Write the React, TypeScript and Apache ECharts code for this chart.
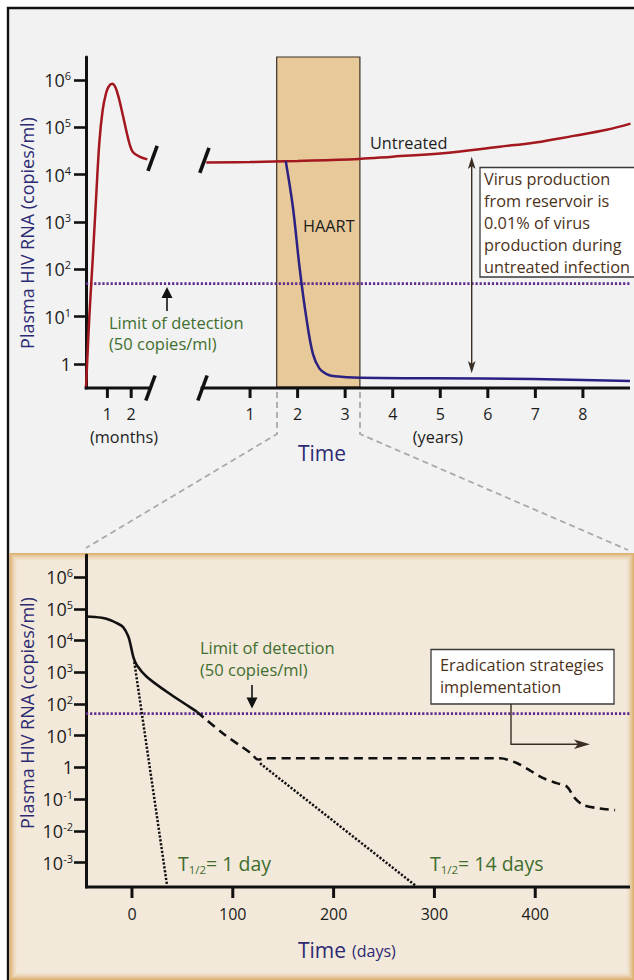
import { useEffect, useRef } from 'react';
import * as echarts from 'echarts';

const FONT = '"Open Sans", "Noto Sans", sans-serif';

// ---------------- Top panel: course of infection ----------------
// early (primary) infection, time in months
const earlyMonths = [0.1, 0.24, 0.38, 0.52, 0.66, 0.8, 0.94, 1.05, 1.2, 1.35, 1.5, 1.65, 1.79, 1.93, 2.07, 2.35, 2.68];
const earlyCopies = [0.32, 10, 155, 2900, 4.7e4, 2.3e5, 5.2e5, 7.2e5, 8.3e5, 6.8e5, 3.8e5, 1.8e5, 8.7e4, 4.5e4, 3.0e4, 2.4e4, 2.1e4];
// untreated chronic infection, time in years
const untreatedYears = [0.08, 1, 2, 3.3, 4, 5, 6.25, 7, 7.8, 8.5, 9.0];
const untreatedCopies = [1.8e4, 1.85e4, 1.95e4, 2.15e4, 2.4e4, 2.8e4, 3.9e4, 4.8e4, 6.6e4, 8.9e4, 1.2e5];
// on HAART, time in years
const haartYears = [1.75, 1.9, 2.04, 2.18, 2.32, 2.46, 2.6, 2.74, 3.31, 4.84, 6.95, 8.99];
const haartCopies = [1.95e4, 2100, 112, 10, 1.66, 0.8, 0.62, 0.56, 0.51, 0.5, 0.48, 0.44];
const haartWindow = [1.56, 3.31]; // years
const monthTicks = [1, 2];
const yearTicks = [1, 2, 3, 4, 5, 6, 7, 8];
const topDecades = [0, 1, 2, 3, 4, 5, 6];
const detectionLimit = 50; // copies/ml

// ---------------- Bottom panel: decay on therapy (days) ----------------
const solidDays = [-45.6, -30, -21.8, -15, -8.6, -3.6, -1, 1.3, 4.7, 14.6, 34.5, 54.3, 64.3];
const solidCopies = [5.75e4, 5.25e4, 4.47e4, 3.55e4, 2.63e4, 1.35e4, 6460, 3090, 1700, 724, 245, 93, 57.5];
const dashedDays = [64.3, 90, 118, 125, 133, 160, 200, 300, 365, 381.6, 395, 408, 421.4, 431.3, 439.5, 447.8, 464.3, 479.2];
const dashedCopies = [57.5, 12, 2.8, 1.78, 1.95, 1.95, 1.95, 1.95, 1.95, 1.38, 0.8, 0.46, 0.32, 0.25, 0.105, 0.065, 0.051, 0.045];
const fastDecayDays = [2.3, 34.8];
const fastDecayCopies = [2150, 1.9e-4];
const slowDecayDays = [127, 282];
const slowDecayCopies = [1.35, 1.8e-4];
const dayTicks = [0, 100, 200, 300, 400];
const bottomDecades = [-3, -2, -1, 0, 1, 2, 3, 4, 5, 6];

// ---------------- helpers ----------------
const lg = (v: number) => Math.log10(v);
const monthToAxis = (m: number) => -2.5 + 0.5 * m;
const TOP = { xMin: -2.45, xMax: 8.99, yMin: -0.507, yMax: 6.486, breakL: -1.07, breakR: 0.02 };
const BOT = { xMin: -45.6, xMax: 494, yMin: -3.77, yMax: 6.7 };

const RED = '#a3171f';
const BLUE = '#2b2183';
const PURPLE = '#5e2b8f';
const GREEN = '#3f6e2f';
const TITLE = '#2c2a72';
const INK = '#1c1c1c';
const BROWN = '#4b3219';
const ARROW = '#3a2e24';

const pairs = (xs: number[], ys: number[], fx: (v: number) => number = (v) => v) =>
  xs.map((x, i) => [fx(x), lg(ys[i])]);

const yRich = {
  b: { fontFamily: FONT, fontSize: 18, color: INK, lineHeight: 20 },
  s: { fontFamily: FONT, fontSize: 11, color: INK, lineHeight: 11, verticalAlign: 'top' },
};
const decadeLabel = (v: number) => {
  const n = Math.round(v);
  return n === 0 ? '{b|1}' : `{b|10}{s|${n}}`;
};

function mix(a: string, b: string, t: number) {
  const pa = [1, 3, 5].map((i) => parseInt(a.slice(i, i + 2), 16));
  const pb = [1, 3, 5].map((i) => parseInt(b.slice(i, i + 2), 16));
  const c = pa.map((v, i) => Math.round(v + (pb[i] - v) * t));
  return `rgb(${c[0]},${c[1]},${c[2]})`;
}

const txt = (x: number, y: number, text: string, size: number, color: string, align = 'left', extra: any = {}) => ({
  type: 'text',
  z: 50,
  x,
  y,
  ...extra,
  style: {
    text,
    fontFamily: FONT,
    fontSize: size,
    fill: color,
    align,
    textAlign: align,
    verticalAlign: 'middle',
    textVerticalAlign: 'middle',
    ...(extra.style || {}),
  },
});

const tickSeries = (xIdx: number, yIdx: number, values: number[], yAt: number, len: number) => ({
  type: 'custom',
  name: 'ticks',
  xAxisIndex: xIdx,
  yAxisIndex: yIdx,
  z: 6,
  silent: true,
  clip: false,
  data: values.map((v) => [v, yAt]),
  renderItem: (_p: any, api: any) => {
    const p = api.coord([api.value(0), api.value(1)]);
    return {
      type: 'line',
      shape: { x1: p[0], y1: p[1], x2: p[0], y2: p[1] + len },
      style: { stroke: '#111', lineWidth: 3 },
    };
  },
});

function buildOption(): any {
  // panel backgrounds
  const graphics: any[] = [
    { type: 'rect', z: -30, shape: { x: 8, y: 8, width: 700, height: 1100 }, style: { fill: '#f2f2f2', stroke: '#111', lineWidth: 2.4 } },
  ];
  const steps = 9;
  for (let i = 0; i < steps; i++) {
    const t = 1 - Math.pow(1 - i / (steps - 1), 1.6);
    graphics.push({
      type: 'rect',
      z: -29,
      shape: { x: 9.4 + i, y: 553 + i, width: 634 - 9.4 - 2 * i, height: 427 - 2 * i },
      style: { fill: mix('#dcb070', '#f3e9da', t) },
    });
  }
  // zoom connectors
  graphics.push(
    { type: 'polyline', z: -5, shape: { points: [[277, 392], [277, 434], [86, 548]] }, style: { stroke: '#a9a9a9', lineWidth: 1.8, lineDash: [6, 4], fill: null } },
    { type: 'polyline', z: -5, shape: { points: [[360, 392], [360, 434], [628, 550]] }, style: { stroke: '#a9a9a9', lineWidth: 1.8, lineDash: [6, 4], fill: null } }
  );
  // y axis titles
  graphics.push(
    txt(27, 233, 'Plasma HIV RNA (copies/ml)', 18, TITLE, 'center', { rotation: Math.PI / 2 }),
    txt(27, 713, 'Plasma HIV RNA (copies/ml)', 18, TITLE, 'center', { rotation: Math.PI / 2 })
  );
  // top annotations
  graphics.push(
    txt(370, 143, 'Untreated', 16.3, INK),
    txt(303, 226, 'HAART', 16.3, INK),
    txt(109, 322, 'Limit of detection', 16.5, GREEN, 'left', { style: { lineHeight: 18 } }),
    txt(109, 343, '(50 copies/ml)', 16.5, GREEN, 'left', { style: { lineHeight: 18 } }),
    { type: 'line', z: 50, shape: { x1: 167, y1: 311, x2: 167, y2: 294 }, style: { stroke: '#111', lineWidth: 1.6 } },
    { type: 'polygon', z: 50, shape: { points: [[167, 287], [172.5, 298], [161.5, 298]] }, style: { fill: '#111' } },
    { type: 'line', z: 50, shape: { x1: 471.7, y1: 164, x2: 471.7, y2: 366 }, style: { stroke: ARROW, lineWidth: 1.4 } },
    { type: 'polygon', z: 50, shape: { points: [[471.7, 156.7], [475.5, 169], [471.7, 166], [467.9, 169]] }, style: { fill: ARROW } },
    { type: 'polygon', z: 50, shape: { points: [[471.7, 373.3], [475.5, 361], [471.7, 364], [467.9, 361]] }, style: { fill: ARROW } },
    { type: 'rect', z: 49, shape: { x: 480, y: 167.5, width: 170, height: 109.5 }, style: { fill: '#ffffff', stroke: '#3a3a3a', lineWidth: 1.3 } }
  );
  ['Virus production', 'from reservoir is', '0.01% of virus', 'production during', 'untreated infection'].forEach((l, i) =>
    graphics.push(txt(484, 178.5 + i * 22, l, 16.3, BROWN, 'left', { style: { lineHeight: 20 } }))
  );
  graphics.push(
    txt(124, 436.5, '(months)', 16.3, INK, 'center', { style: { lineHeight: 16 } }),
    txt(438, 436.5, '(years)', 16.3, INK, 'center', { style: { lineHeight: 16 } }),
    txt(298, 453, 'Time', 21, TITLE, 'left', { style: { lineHeight: 20 } })
  );
  // bottom annotations
  const subRich = {
    t: { fontFamily: FONT, fontSize: 19.5, color: GREEN, fill: GREEN, lineHeight: 24 },
    u: { fontFamily: FONT, fontSize: 11.5, color: GREEN, fill: GREEN, lineHeight: 12, verticalAlign: 'bottom' },
  };
  graphics.push(
    txt(200, 647, 'Limit of detection', 16.5, GREEN, 'left', { style: { lineHeight: 18 } }),
    txt(200, 669, '(50 copies/ml)', 16.5, GREEN, 'left', { style: { lineHeight: 18 } }),
    { type: 'line', z: 50, shape: { x1: 252, y1: 685, x2: 252, y2: 700 }, style: { stroke: '#111', lineWidth: 1.6 } },
    { type: 'polygon', z: 50, shape: { points: [[252, 708.5], [257.5, 697.5], [246.5, 697.5]] }, style: { fill: '#111' } },
    { type: 'rect', z: 49, shape: { x: 431, y: 649.5, width: 183, height: 54.5 }, style: { fill: '#ffffff', stroke: '#3a3a3a', lineWidth: 1.3 } },
    txt(440, 665, 'Eradication strategies', 16.3, BROWN, 'left', { style: { lineHeight: 20 } }),
    txt(440, 687, 'implementation', 16.3, BROWN, 'left', { style: { lineHeight: 20 } }),
    { type: 'polyline', z: 50, shape: { points: [[511, 704], [511, 744.3], [580, 744.3]] }, style: { stroke: ARROW, lineWidth: 1.4, fill: null } },
    { type: 'polygon', z: 50, shape: { points: [[590, 744.3], [574, 739.5], [578, 744.3], [574, 749]] }, style: { fill: ARROW } },
    {
      type: 'text', z: 50, x: 178, y: 863,
      style: { text: '{t|T}{u|1/2}{t|= 1 day}', align: 'left', textAlign: 'left', verticalAlign: 'middle', textVerticalAlign: 'middle', rich: subRich },
    },
    {
      type: 'text', z: 50, x: 430, y: 863,
      style: { text: '{t|T}{u|1/2}{t|= 14 days}', align: 'left', textAlign: 'left', verticalAlign: 'middle', textVerticalAlign: 'middle', rich: subRich },
    },
    txt(298, 950, 'Time', 21, TITLE, 'left', { style: { lineHeight: 20 } }),
    txt(352, 951, '(days)', 16, TITLE, 'left', { style: { lineHeight: 18 } })
  );

  const axisLineStyle = { color: '#111', width: 3 };
  const lineBase = { type: 'line', showSymbol: false, symbol: 'none', silent: true, animation: false, clip: false };

  const breakMarks = [
    [TOP.breakL + 0.02, lg(2.2e4)],
    [TOP.breakR + 0.02, lg(2.0e4)],
    [TOP.breakL - 0.025, TOP.yMin],
    [TOP.breakR - 0.02, TOP.yMin],
  ];
  const topTickValues = [...monthTicks.map(monthToAxis), ...yearTicks];

  return {
    animation: false,
    backgroundColor: '#ffffff',
    textStyle: { fontFamily: FONT },
    graphic: { elements: graphics },
    grid: [
      { left: 86, top: 57, width: 544, height: 331, outerBoundsMode: 'none', containLabel: false },
      { left: 86, top: 555, width: 544, height: 332, outerBoundsMode: 'none', containLabel: false },
    ],
    xAxis: [
      {
        type: 'value', gridIndex: 0, min: TOP.xMin, max: TOP.xMax,
        axisLine: { show: false, onZero: false },
        splitLine: { show: false },
        axisTick: { show: false },
        axisLabel: {
          customValues: topTickValues,
          formatter: (v: number) => (v < 0 ? String(Math.round((v + 2.5) / 0.5)) : String(Math.round(v))),
          fontFamily: FONT, fontSize: 16, lineHeight: 16, color: INK, margin: 18,
        },
      },
      {
        type: 'value', gridIndex: 1, min: BOT.xMin, max: BOT.xMax,
        axisLine: { show: false, onZero: false },
        splitLine: { show: false },
        axisTick: { show: false },
        axisLabel: { customValues: dayTicks, fontFamily: FONT, fontSize: 16, lineHeight: 16, color: INK, margin: 19 },
      },
    ],
    yAxis: [
      {
        type: 'value', gridIndex: 0, min: TOP.yMin, max: TOP.yMax,
        axisLine: { show: true, onZero: false, lineStyle: axisLineStyle },
        splitLine: { show: false },
        axisTick: { show: true, customValues: topDecades, length: 12, lineStyle: { color: '#111', width: 2.6 } },
        axisLabel: { customValues: topDecades, formatter: decadeLabel, rich: yRich, margin: 15, fontFamily: FONT },
      },
      {
        type: 'value', gridIndex: 1, min: BOT.yMin, max: BOT.yMax,
        axisLine: { show: true, onZero: false, lineStyle: axisLineStyle },
        splitLine: { show: false },
        axisTick: { show: true, customValues: bottomDecades, length: 12, lineStyle: { color: '#111', width: 2.6 } },
        axisLabel: { customValues: bottomDecades, formatter: decadeLabel, rich: yRich, margin: 13, fontFamily: FONT },
      },
    ],
    series: [
      // ---- top ----
      {
        ...lineBase, name: 'HAART period', xAxisIndex: 0, yAxisIndex: 0, z: 1, data: [],
        markArea: {
          silent: true,
          itemStyle: { color: '#e8c99a', borderColor: '#3b3025', borderWidth: 1.2 },
          data: [[{ xAxis: haartWindow[0], yAxis: TOP.yMin + 0.02 }, { xAxis: haartWindow[1], yAxis: TOP.yMax + 0.02 }]],
        },
      },
      {
        ...lineBase, name: 'Limit of detection', xAxisIndex: 0, yAxisIndex: 0, z: 3,
        data: [[TOP.xMin, lg(detectionLimit)], [TOP.xMax, lg(detectionLimit)]],
        lineStyle: { color: PURPLE, width: 2.6, type: [2.2, 1.9] },
      },
      {
        ...lineBase, name: 'Primary infection', xAxisIndex: 0, yAxisIndex: 0, z: 4, smooth: 0.35,
        data: pairs(earlyMonths, earlyCopies, monthToAxis),
        lineStyle: { color: RED, width: 2.5 },
      },
      {
        ...lineBase, name: 'Untreated', xAxisIndex: 0, yAxisIndex: 0, z: 4, smooth: 0.4,
        data: pairs(untreatedYears, untreatedCopies),
        lineStyle: { color: RED, width: 2.5 },
      },
      {
        ...lineBase, name: 'HAART', xAxisIndex: 0, yAxisIndex: 0, z: 4, smooth: 0.35,
        data: pairs(haartYears, haartCopies),
        lineStyle: { color: BLUE, width: 2.5 },
      },
      {
        ...lineBase, name: 'axis-left', xAxisIndex: 0, yAxisIndex: 0, z: 5,
        data: [[TOP.xMin - 0.03, TOP.yMin], [TOP.breakL, TOP.yMin]],
        lineStyle: axisLineStyle,
      },
      {
        ...lineBase, name: 'axis-right', xAxisIndex: 0, yAxisIndex: 0, z: 5,
        data: [[TOP.breakR - 0.06, TOP.yMin], [TOP.xMax, TOP.yMin]],
        lineStyle: axisLineStyle,
      },
      tickSeries(0, 0, topTickValues, TOP.yMin, 10),
      {
        type: 'custom', name: 'breaks', xAxisIndex: 0, yAxisIndex: 0, z: 6, silent: true, clip: false,
        data: breakMarks,
        renderItem: (_p: any, api: any) => {
          const p = api.coord([api.value(0), api.value(1)]);
          return {
            type: 'line',
            shape: { x1: p[0] - 4.6, y1: p[1] + 12.5, x2: p[0] + 4.6, y2: p[1] - 12.5 },
            style: { stroke: '#111', lineWidth: 3.6 },
          };
        },
      },
      // ---- bottom ----
      {
        ...lineBase, name: 'x-axis (days)', xAxisIndex: 1, yAxisIndex: 1, z: 5,
        data: [[BOT.xMin - 0.8, BOT.yMin], [BOT.xMax, BOT.yMin]],
        lineStyle: axisLineStyle,
      },
      tickSeries(1, 1, dayTicks, BOT.yMin, 11),
      {
        ...lineBase, name: 'Limit of detection (days)', xAxisIndex: 1, yAxisIndex: 1, z: 3,
        data: [[BOT.xMin, lg(detectionLimit)], [BOT.xMax, lg(detectionLimit)]],
        lineStyle: { color: PURPLE, width: 2.6, type: [2.2, 1.9] },
      },
      {
        ...lineBase, name: 'Observed decay', xAxisIndex: 1, yAxisIndex: 1, z: 4, smooth: 0.35,
        data: pairs(solidDays, solidCopies),
        lineStyle: { color: '#111', width: 2.6 },
      },
      {
        ...lineBase, name: 'Below detection', xAxisIndex: 1, yAxisIndex: 1, z: 4, smooth: 0.3,
        data: pairs(dashedDays, dashedCopies),
        lineStyle: { color: '#111', width: 2.6, type: [9, 5.5] },
      },
      {
        ...lineBase, name: 'T1/2 = 1 day', xAxisIndex: 1, yAxisIndex: 1, z: 4,
        data: pairs(fastDecayDays, fastDecayCopies),
        lineStyle: { color: '#111', width: 2.5, type: [2.2, 1.7] },
      },
      {
        ...lineBase, name: 'T1/2 = 14 days', xAxisIndex: 1, yAxisIndex: 1, z: 4,
        data: pairs(slowDecayDays, slowDecayCopies),
        lineStyle: { color: '#111', width: 2.5, type: [2.2, 1.7] },
      },
    ],
  };
}

export default function App() {
  const ref = useRef<HTMLDivElement>(null);
  useEffect(() => {
    const chart = echarts.init(ref.current!, undefined, { renderer: 'svg', width: 634, height: 980 });
    chart.setOption(buildOption());
    return () => chart.dispose();
  }, []);
  return <div ref={ref} style={{ position: 'fixed', left: 0, top: 0, width: 634, height: 980 }} />;
}
